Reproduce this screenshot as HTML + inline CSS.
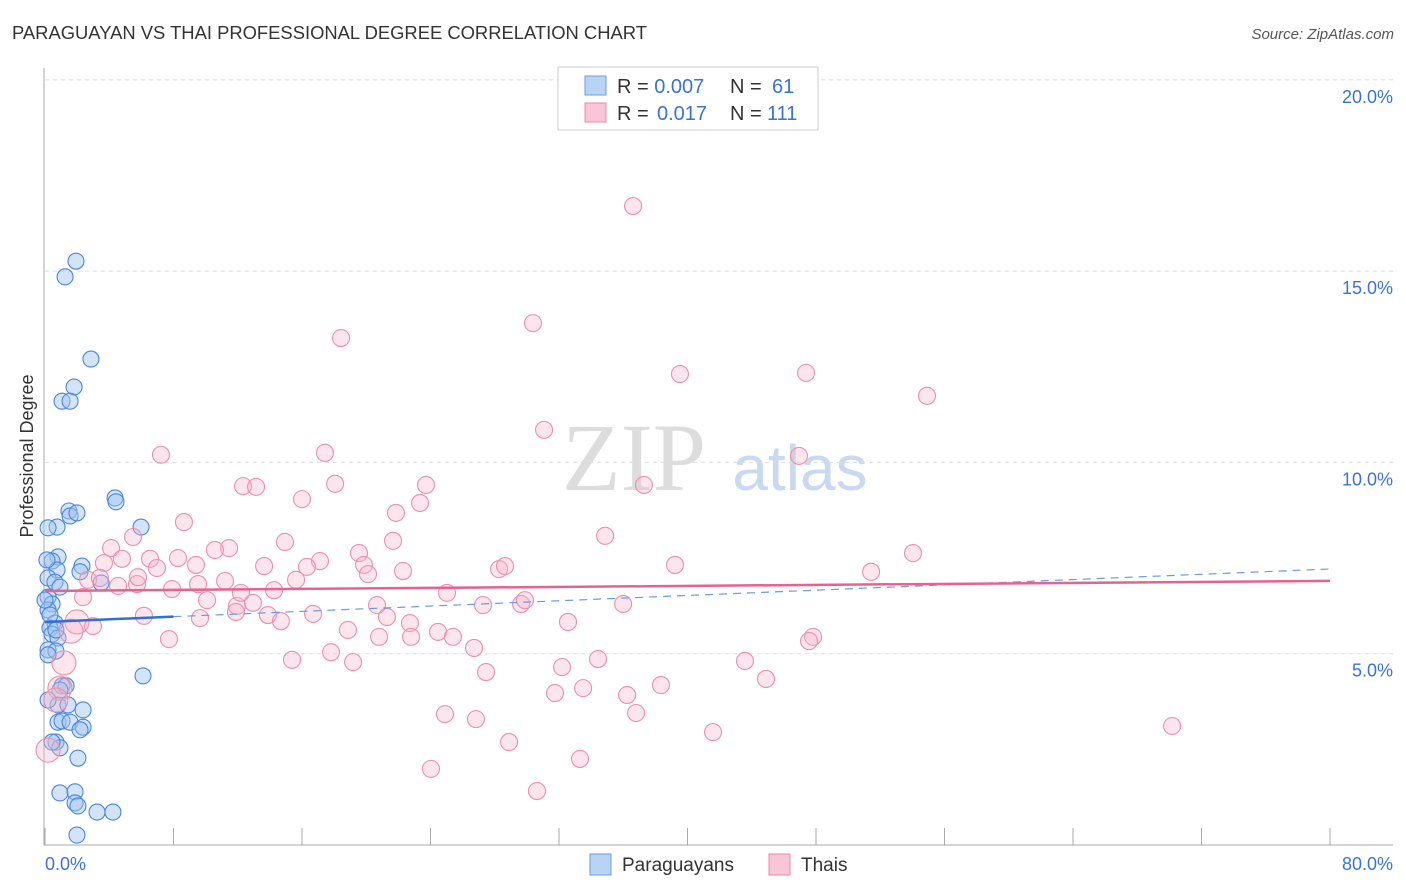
<!DOCTYPE html>
<html><head><meta charset="utf-8"><style>
body{margin:0;background:#fff;font-family:"Liberation Sans",sans-serif;}
svg{display:block}
</style></head><body>
<svg id="chart" width="1406" height="892">
<text x="12" y="39" font-size="18.4" fill="#333">PARAGUAYAN VS THAI PROFESSIONAL DEGREE CORRELATION CHART</text>
<text x="1394" y="39" font-size="15" fill="#555" font-style="italic" text-anchor="end">Source: ZipAtlas.com</text>
<text x="634" y="490" font-size="96" fill="#ddd" font-family="Liberation Serif,serif" text-anchor="middle">ZIP</text>
<text x="800" y="490" font-size="64" fill="#c9d9ef" text-anchor="middle">atlas</text>
<text transform="translate(33,456) rotate(-90)" font-size="18" fill="#333" text-anchor="middle">Professional Degree</text>
<g id="grid"></g><g id="pts"></g><g id="lines"></g>
<g>
<rect x="558" y="67" width="260" height="63" fill="#fff" stroke="#ccc"/>
<rect x="585" y="76" width="21" height="19" fill="#b9d3f5" stroke="#6a9be0"/>
<rect x="585" y="103" width="21" height="19" fill="#f8c6d6" stroke="#e88aa8"/>
<text x="617" y="93" font-size="20" fill="#333">R = <tspan fill="#3b73d0">0.007</tspan><tspan x="730">N = </tspan><tspan fill="#3b73d0" x="772">61</tspan></text>
<text x="617" y="120" font-size="20" fill="#333">R = <tspan fill="#3b73d0" x="657">0.017</tspan><tspan x="730">N = </tspan><tspan fill="#3b73d0" x="767">111</tspan></text>
</g>
<g>
<rect x="590" y="854" width="21" height="21" fill="#b9d3f5" stroke="#6a9be0"/>
<text x="622" y="871" font-size="19" fill="#333">Paraguayans</text>
<rect x="769" y="854" width="21" height="21" fill="#f8c6d6" stroke="#e88aa8"/>
<text x="801" y="871" font-size="19" fill="#333">Thais</text>
</g>
<text x="45" y="870" font-size="18" fill="#3b73d0">0.0%</text>
<text x="1393" y="870" font-size="18" fill="#3b73d0" text-anchor="end">80.0%</text>
</svg>
<script>
const yTicks=[5,10,15,20];
const yTickLabels=["5.0%","10.0%","15.0%","20.0%"];
const xTicks=[0,8,16,24,32,40,48,56,64,72,80];
const blueX=[1.93,1.25,2.86,1.81,1.06,1.56,4.36,4.42,1.49,1.56,1.99,0.75,5.98,0.19,0.81,0.44,2.30,0.75,2.18,0.19,0.62,0.93,3.49,0.19,0.44,0.19,0.62,0.31,0.44,0.81,0.19,0.68,0.19,6.10,1.06,1.31,0.81,1.43,2.37,0.81,1.06,1.56,2.37,2.18,0.68,0.93,2.05,0.44,0.93,1.87,1.87,2.05,3.24,4.23,1.99,0.19,0.31,0.68,0,0.93,0.12];
const blueY=[15.26,14.85,12.70,11.97,11.60,11.60,9.07,8.97,8.73,8.60,8.68,8.31,8.31,8.29,7.53,7.42,7.29,7.19,7.14,6.98,6.87,6.74,6.85,6.48,6.30,6.14,5.80,5.67,5.51,5.41,5.10,5.07,4.97,4.42,4.16,4.16,3.66,3.66,3.53,3.21,3.24,3.21,3.08,3.01,2.69,2.54,2.27,2.69,1.36,1.39,1.10,1.02,0.86,0.86,0.26,3.79,6.01,5.62,6.40,4.05,7.45];
const pinkX=[36.61,30.38,18.43,39.53,47.38,54.91,31.07,7.22,17.43,46.94,37.29,12.33,13.14,18.06,23.72,16.00,23.35,21.85,8.65,34.87,14.94,5.48,4.11,11.46,10.58,21.67,54.04,19.55,6.54,4.79,8.28,13.64,17.12,39.22,19.86,28.27,51.43,28.64,3.67,6.97,9.40,22.29,20.11,16.31,2.68,3.42,4.55,5.73,7.91,9.53,11.21,15.63,14.26,25.03,5.79,2.37,10.09,11.95,12.20,12.95,11.89,20.67,27.27,29.64,29.88,35.99,6.16,9.65,13.88,14.69,16.69,21.29,22.72,32.56,1.99,2.99,1.62,18.86,24.47,25.40,7.72,20.80,22.79,47.82,47.57,26.71,17.81,15.38,19.18,34.43,32.19,43.58,27.46,1.18,44.89,38.35,33.50,31.75,36.24,0.93,24.90,26.83,36.80,0.68,70.17,41.59,28.89,33.31,24.03,30.63,0.19];
const pinkY=[16.70,13.64,13.25,12.31,12.34,11.74,10.85,10.20,10.25,10.17,9.41,9.38,9.36,9.44,9.41,9.04,8.94,8.68,8.44,8.08,7.92,8.05,7.76,7.76,7.71,7.95,7.63,7.63,7.48,7.48,7.50,7.29,7.42,7.32,7.32,7.21,7.14,7.29,7.37,7.24,7.32,7.16,7.08,7.27,6.93,6.98,6.77,6.82,6.69,6.82,6.90,6.93,6.66,6.59,7.00,6.48,6.40,6.25,6.59,6.33,6.09,6.27,6.27,6.30,6.40,6.30,5.99,5.93,6.01,5.85,6.04,5.96,5.80,5.83,5.83,5.72,5.59,5.62,5.57,5.44,5.38,5.44,5.44,5.44,5.33,5.15,5.04,4.84,4.78,4.86,4.65,4.81,4.52,4.76,4.34,4.18,4.10,3.97,3.92,4.10,3.42,3.29,3.45,3.79,3.11,2.95,2.69,2.25,1.99,1.41,2.48];
const blueTrend=[5.83,0.0173];
const pinkTrend=[6.64,0.0033];
const ns="http://www.w3.org/2000/svg";
const X=v=>45+v*(1285/80), Y=v=>845-v*38.26;
function mk(t,a,p){const e=document.createElementNS(ns,t);for(const k in a)e.setAttribute(k,a[k]);p.appendChild(e);return e;}
const grid=document.getElementById('grid');
yTicks.forEach((t,i)=>{
 const l=mk('line',{x1:45,x2:1393,y1:Y(t),y2:Y(t),stroke:'#ddd','stroke-dasharray':'4,4'},grid);
 
 
 const tx=mk('text',{x:1393,y:Y(t)+23,'font-size':18,fill:'#3b73d0','text-anchor':'end'},grid);
 tx.textContent=yTickLabels[i];
 
 
});
mk('line',{x1:44,x2:44,y1:68,y2:845,stroke:'#aaa'},grid);
mk('line',{x1:44,x2:1393,y1:845,y2:845,stroke:'#aaa'},grid);
xTicks.forEach(t=>{
 const l=mk('line',{x1:X(t),x2:X(t),y1:828,y2:845,stroke:'#aaa'},grid);
 
 
});
const pts=document.getElementById('pts');
blueX.forEach((v,i)=>{
 const c=mk('circle',{cx:X(v),cy:Y(blueY[i]),r:8,fill:'rgba(160,195,240,0.45)',stroke:'#4a86d8','stroke-width':1.1},pts);
 
 
});
pinkX.forEach((v,i)=>{
 const c=mk('circle',{cx:X(v),cy:Y(pinkY[i]),r:(v<2.5&&pinkY[i]<6?12:8.5),fill:'rgba(246,180,200,0.35)',stroke:'#eb8fad','stroke-width':1.1},pts);
 
 
});
const lines=document.getElementById('lines');
const bt=x=>blueTrend[0]+blueTrend[1]*x, pt=x=>pinkTrend[0]+pinkTrend[1]*x;
const bd=mk('line',{x1:X(8),y1:Y(bt(8)),x2:X(80),y2:Y(bt(80)),stroke:'#6a9be0','stroke-dasharray':'8,6','stroke-width':1.2},lines);


const bs=mk('line',{x1:X(0),y1:Y(bt(0)),x2:X(8),y2:Y(bt(8)),stroke:'#2f6fd6','stroke-width':2.5},lines);


const ps=mk('line',{x1:X(0),y1:Y(pt(0)),x2:X(80),y2:Y(pt(80)),stroke:'#e8628e','stroke-width':2.5},lines);


</script>
</body></html>
